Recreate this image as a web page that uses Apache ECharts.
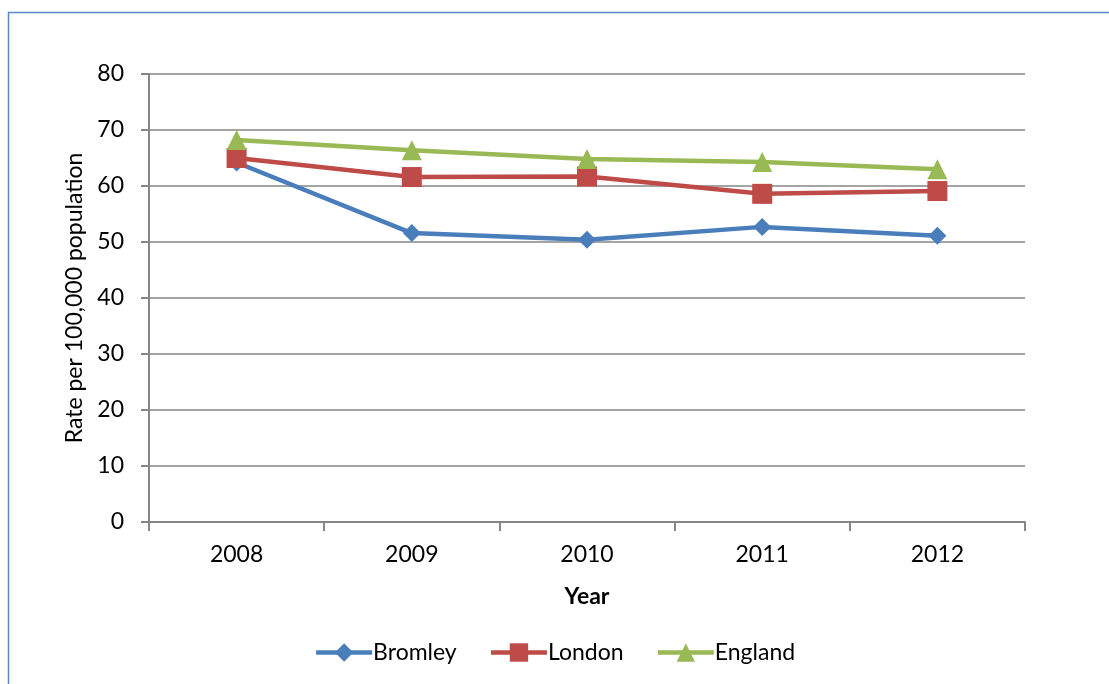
<!DOCTYPE html>
<html>
<head>
<meta charset="utf-8">
<script src="https://cdn.jsdelivr.net/npm/echarts@6/dist/echarts.min.js"></script>
<style>
  html, body { margin: 0; padding: 0; background: #fff; }
  #chart { width: 1109px; height: 684px; }
</style>
</head>
<body>
<div id="chart"></div>
<script>
const years = ['2008', '2009', '2010', '2011', '2012'];
const bromley = [64.2, 51.6, 50.4, 52.7, 51.1];
const london = [65.0, 61.6, 61.7, 58.6, 59.1];
const england = [68.2, 66.4, 64.8, 64.3, 63.0];

const FONT = 'Lato, "Open Sans", sans-serif';
const FONT_SIZE = 23;
const AXIS_GREY = '#868686';

const chart = echarts.init(document.getElementById('chart'));

function lineSeries(name, data, color, symbol, size) {
  return {
    name: name,
    type: 'line',
    data: data,
    symbol: symbol,
    symbolSize: size,
    showAllSymbol: true,
    itemStyle: { color: color },
    lineStyle: { color: color, width: 4.5 },
    emphasis: { disabled: true },
    animation: false
  };
}

chart.setOption({
  backgroundColor: '#fff',
  animation: false,
  graphic: [{
    type: 'rect',
    shape: { x: 8.5, y: 12.5, width: 1200, height: 800 },
    style: { fill: 'none', stroke: '#5B86C5', lineWidth: 1.5 },
    silent: true,
    z: -1
  }],
  grid: { left: 149, right: 84, top: 74, bottom: 162 },
  legend: {
    bottom: 15,
    left: 'center',
    itemWidth: 56,
    itemHeight: 23,
    itemGap: 32,
    lineStyle: { width: 4.5 },
    textStyle: { fontFamily: FONT, fontSize: FONT_SIZE, color: '#000', padding: [0, 0, 0, -4] },
    data: ['Bromley', 'London', 'England']
  },
  xAxis: {
    type: 'category',
    data: years,
    boundaryGap: true,
    name: 'Year',
    nameLocation: 'middle',
    nameGap: 63,
    nameTextStyle: { fontFamily: FONT, fontSize: FONT_SIZE, fontWeight: 'bold', color: '#000' },
    axisLine: { lineStyle: { color: AXIS_GREY, width: 2 } },
    axisTick: { show: true, length: 9, lineStyle: { color: AXIS_GREY, width: 2 } },
    axisLabel: { fontFamily: FONT, fontSize: FONT_SIZE, color: '#000', margin: 21 }
  },
  yAxis: {
    type: 'value',
    min: 0,
    max: 80,
    interval: 10,
    name: 'Rate per 100,000 population',
    nameLocation: 'middle',
    nameGap: 63,
    nameRotate: 90,
    nameTextStyle: { fontFamily: FONT, fontSize: FONT_SIZE, color: '#000' },
    axisLine: { show: true, lineStyle: { color: AXIS_GREY, width: 2 } },
    axisTick: { show: true, length: 8, lineStyle: { color: AXIS_GREY, width: 2 } },
    axisLabel: { fontFamily: FONT, fontSize: FONT_SIZE, color: '#000', margin: 25 },
    splitLine: { show: true, lineStyle: { color: AXIS_GREY, width: 1.5 } }
  },
  series: [
    lineSeries('Bromley', bromley, '#4A7EBB', 'diamond', 18),
    lineSeries('London', london, '#BE4B48', 'rect', 20),
    lineSeries('England', england, '#98B954', 'triangle', 20)
  ]
});
</script>
</body>
</html>
